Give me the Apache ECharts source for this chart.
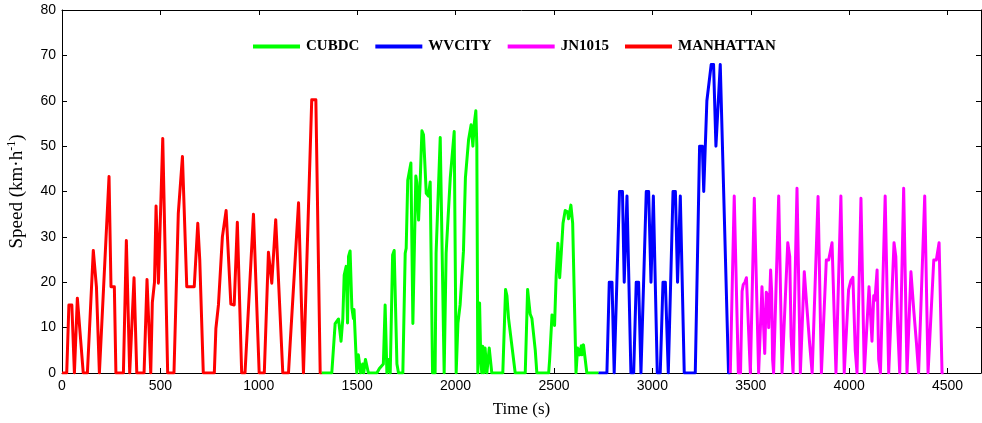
<!DOCTYPE html>
<html>
<head>
<meta charset="utf-8">
<script src="https://cdn.jsdelivr.net/npm/echarts@6/dist/echarts.min.js"></script>
<style>
html,body{margin:0;padding:0;background:#fff;}
#chart{width:982px;height:423px;}
</style>
</head>
<body>
<div id="chart"></div>
<script>
// Tick values
const xTicks = [0, 500, 1000, 1500, 2000, 2500, 3000, 3500, 4000, 4500];
const yTicks = [0, 10, 20, 30, 40, 50, 60, 70, 80];
const legendNames = ['CUBDC', 'WVCITY', 'JN1015', 'MANHATTAN'];

// MANHATTAN cycle: [time s, speed km/h]
const manhattan = [
  [0,0],[24,0],[35,15],[50,15],[63,0],[78,16.5],[108,0],[129,0],[159,27],[175,19],[190,0],[198,0],
  [239,43.3],[249,19],[266,19],[274,0],[312,0],[327,29.2],[344,0],[366,21],[380,0],[417,0],[432,20.6],
  [451,0],[459,15.5],[470,20],[478,36.8],[490,19.8],[512,51.7],[537,0],[569,0],[591,35.2],[612,47.7],
  [634,19],[672,19],[690,33],[700,25],[718,0],[774,0],[782,9.8],[795,15],[815,30],[834,35.8],[858,15.2],
  [875,15],[891,33.2],[913,0],[930,0],[973,35],[1002,0],[1028,0],[1049,26.6],[1066,19.8],[1086,33.8],
  [1122,0],[1151,0],[1160,6.9],[1170,6.9],[1202,37.5],[1212,37.5],[1227,0],[1269,60.2],[1290,60.2],
  [1312,0],[1320,0]
];

// CUBDC cycle
const cubdc = [
  [1320,0],[1371,0],[1388,10.9],[1405,11.9],[1413,12],[1418,7],[1427,12],[1434,21.6],[1444,23.5],
  [1451,11],[1456,25.7],[1464,26.9],[1473,14.3],[1481,12],[1484,14],[1498,0],[1506,4],[1518,0],
  [1528,2],[1533,0],[1542,3],[1557,0],[1600,0],[1613,1],[1633,2],[1642,15],[1651,0],[1659,3],[1668,0],
  [1680,26],[1688,27],[1702,2],[1710,0],[1732,0],[1744,26.4],[1749,27.5],[1757,42.5],[1773,46.3],
  [1783,10.9],[1798,43.4],[1803,42],[1812,33.7],[1820,42],[1829,53.4],[1837,52.5],[1851,39.6],
  [1862,39],[1871,42.1],[1883,0],[1896,0],[1901,26.4],[1922,51.9],[1942,0],[1952,26.4],[1973,43],
  [1981,43],[1993,53.2],[2003,0],[2012,11],[2023,15],[2040,26.8],[2050,43],[2066,51.4],[2079,54.7],
  [2088,50],[2095,55],[2103,57.8],[2108,50],[2113,0],[2122,15.4],[2128,3],[2133,0],[2138,5.9],
  [2143,0],[2150,5.5],[2159,0],[2171,5.5],[2184,0],[2240,0],[2254,18.4],[2261,17],[2269,12.1],
  [2278,12],[2303,0],[2354,0],[2366,18.4],[2372,18],[2379,13],[2388,12],[2405,5],[2413,0],[2473,0],
  [2478,3],[2490,12.8],[2498,13],[2503,10.5],[2511,21.2],[2520,28.6],[2529,21],[2537,26.4],[2546,33],
  [2557,35.8],[2569,35.5],[2574,34],[2586,37],[2595,33],[2612,0],[2620,5.5],[2630,4],[2639,6],
  [2642,4],[2650,6.2],[2667,0],[2727,0]
];

// WVCITY cycle
const wvcity = [
  [2727,0],[2769,0],[2781,20],[2795,20],[2806,0],[2833,40],[2848,40],[2857,20],[2871,39],[2891,0],
  [2905,0],[2918,20],[2930,20],[2942,0],[2969,40],[2981,40],[2993,20],[3005,39],[3025,0],[3040,0],
  [3054,20],[3066,20],[3081,0],[3091,0],[3105,40],[3117,40],[3128,20],[3142,39],[3162,0],[3218,0],
  [3240,50],[3254,50],[3261,40],[3277,60],[3286,60],[3299,68],[3311,68],[3323,50],[3345,68],
  [3354,68],[3387,0],[3396,0]
];

// JN1015 cycle
const jn1015 = [
  [3396,0],[3416,39],[3437,0],[3448,0],[3456,18],[3462,19.5],[3470,20],[3478,21],[3498,0],
  [3518,38.5],[3540,0],[3557,19],[3566,19],[3571,4.3],[3579,17.8],[3586,17],[3591,10],[3601,22.7],
  [3606,18],[3611,3],[3616,0],[3642,39],[3659,0],[3688,28.7],[3698,25.7],[3705,8],[3715,0],
  [3735,40.7],[3752,0],[3772,22.3],[3786,14],[3799,6.6],[3812,0],[3842,38.9],[3859,0],[3884,24.9],
  [3896,24.9],[3913,28.7],[3926,10],[3933,0],[3958,39],[3975,0],[3997,18.3],[4009,20.4],[4019,21.1],
  [4031,5],[4040,0],[4060,38.5],[4077,0],[4101,19],[4108,19],[4116,7],[4125,17],[4131,16],
  [4142,22.7],[4150,3],[4159,0],[4183,39],[4201,0],[4228,28.7],[4237,25.7],[4247,10],[4257,0],
  [4277,40.7],[4294,0],[4314,22.3],[4328,14],[4342,6.6],[4353,0],[4384,39],[4401,0],[4430,24.9],
  [4443,24.9],[4457,28.7],[4472,0],[4480,0]
];

const xMin = 0, xMax = 4670, xStep = 500;
const yMin = 0, yMax = 80, yStep = 10;

const colors = {CUBDC:'#00ff00', WVCITY:'#0000ff', JN1015:'#ff00ff', MANHATTAN:'#ff0000'};
const seriesData = {CUBDC: cubdc, WVCITY: wvcity, JN1015: jn1015, MANHATTAN: manhattan};

const chart = echarts.init(document.getElementById('chart'), null, {renderer:'canvas'});

const axisLineStyle = {show:true, onZero:false, lineStyle:{color:'#000', width:1}};
const tickStyle = {show:true, inside:true, length:5, lineStyle:{color:'#000', width:1}};
const labelFont = {fontFamily:'Liberation Sans, Arial, sans-serif', fontSize:14, color:'#000'};
const plainNum = v => String(v);
const serif = 'Liberation Serif, Times New Roman, serif';

const option = {
  animation:false,
  backgroundColor:'#fff',
  grid:{left:62, right:1, top:10, bottom:50, containLabel:false, outerBoundsMode:'none'},
  legend:{
    data: legendNames,
    left:253, top:39, padding:0,
    icon:'rect', itemWidth:47, itemHeight:4, itemGap:16,
    textStyle:{fontFamily:serif, fontWeight:'bold', fontSize:15, color:'#000', padding:[0,0,0,1]}
  },
  xAxis:[
    {type:'value', min:xMin, max:xMax, interval:xStep, position:'bottom',
     axisLine:axisLineStyle, axisTick:tickStyle, splitLine:{show:false},
     axisLabel:Object.assign({margin:6, showMaxLabel:false, formatter:plainNum}, labelFont),
     name:'Time (s)', nameLocation:'middle', nameGap:28,
     nameTextStyle:{fontFamily:serif, fontSize:17, color:'#000'}},
    {type:'value', min:xMin, max:xMax, interval:xStep, position:'top',
     axisLine:axisLineStyle, axisTick:tickStyle, splitLine:{show:false}, axisLabel:{show:false}}
  ],
  yAxis:[
    {type:'value', min:yMin, max:yMax, interval:yStep, position:'left',
     axisLine:axisLineStyle, axisTick:tickStyle, splitLine:{show:false},
     axisLabel:Object.assign({margin:6, formatter:plainNum}, labelFont),
     name:'{t|Speed (km·h}{s|-1}{t|)}', nameLocation:'middle', nameGap:35, nameRotate:90,
     nameTextStyle:{rich:{
       t:{fontFamily:serif, fontSize:19, color:'#000', verticalAlign:'bottom'},
       s:{fontFamily:serif, fontSize:12, color:'#000', verticalAlign:'top', padding:[0,0,9,0]}
     }}},
    {type:'value', min:yMin, max:yMax, interval:yStep, position:'right',
     axisLine:axisLineStyle, axisTick:tickStyle, splitLine:{show:false}, axisLabel:{show:false}}
  ],
  series: ['MANHATTAN','CUBDC','WVCITY','JN1015'].map(n => ({
    name:n, type:'line', xAxisIndex:0, yAxisIndex:0,
    data: seriesData[n], symbol:'none', showSymbol:false,
    lineStyle:{color:colors[n], width:3, join:'round'},
    itemStyle:{color:colors[n]},
    z:2
  }))
};
chart.setOption(option);
</script>
</body>
</html>
